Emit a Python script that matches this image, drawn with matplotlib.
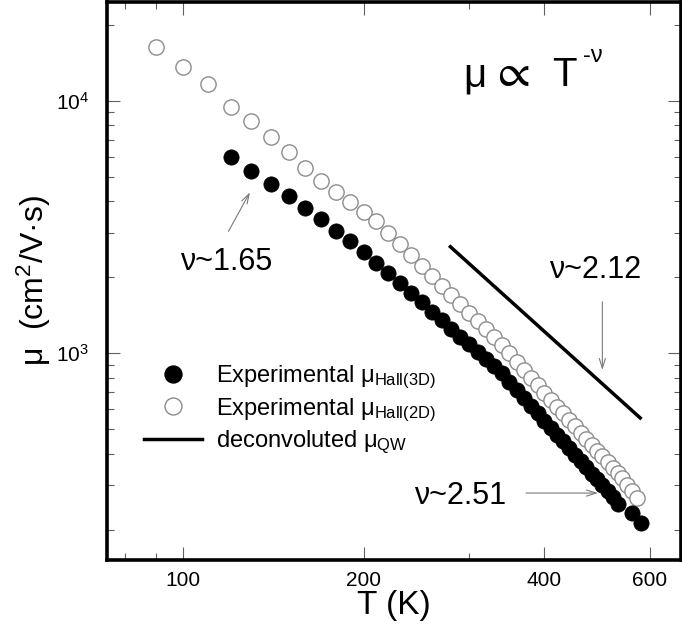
import matplotlib
matplotlib.use('Agg')
import matplotlib.pyplot as plt
from matplotlib.ticker import FixedLocator, FixedFormatter, NullFormatter
from matplotlib.legend_handler import HandlerLine2D
from matplotlib.lines import Line2D

plt.rcParams['font.family'] = ['Liberation Sans', 'DejaVu Sans']
plt.rcParams['mathtext.fontset'] = 'custom'
plt.rcParams['mathtext.rm'] = 'Liberation Sans'
plt.rcParams['mathtext.it'] = 'Liberation Sans'
plt.rcParams['mathtext.bf'] = 'Liberation Sans:bold'
plt.rcParams['mathtext.sf'] = 'Liberation Sans'

# ---- data ----
T_2d = [90, 100, 110, 120, 130, 140, 150, 160, 170, 180, 190, 200, 210, 220,
        230, 240, 250, 260, 270, 280, 290, 300, 310, 320, 330, 340, 350, 360,
        370, 380, 390, 400, 410, 420, 430, 440, 450, 460, 470, 480, 490, 500,
        510, 520, 530, 540, 550, 560, 570]
mu_2d = [16270, 13630, 11610, 9420, 8310, 7200, 6250, 5400, 4820, 4360, 3980,
         3640, 3330, 3000, 2700, 2445, 2220, 2025, 1855, 1700, 1565, 1450, 1340,
         1245, 1157, 1078, 1000, 925, 860, 800, 747, 698, 654, 615, 578, 545,
         514, 485, 459, 435, 412, 391, 371, 353, 336, 320, 302, 285, 268]

T_3d = [120, 130, 140, 150, 160, 170, 180, 190, 200, 210, 220, 230, 240, 250,
        260, 270, 280, 290, 300, 310, 320, 330, 340, 350, 360, 370, 380, 390,
        400, 410, 420, 430, 440, 450, 460, 470, 480, 490, 500, 510, 520, 530,
        560, 580]
mu_3d = [5970, 5280, 4670, 4195, 3760, 3400, 3050, 2780, 2510, 2270, 2080, 1894,
         1732, 1590, 1464, 1353, 1253, 1164, 1085, 1013, 947, 888, 834, 772, 717,
         666, 621, 579, 542, 508, 476, 448, 421, 397, 374, 354, 334, 317, 300,
         285, 271, 253, 233, 213]

T_qw = [279, 578]
mu_qw = [2643, 555]

series_labels = [r'Experimental $\mu_{\mathrm{Hall(3D)}}$',
                 r'Experimental $\mu_{\mathrm{Hall(2D)}}$',
                 r'deconvoluted $\mu_{\mathrm{QW}}$']

x_ticks = [100, 200, 400, 600]
x_tick_labels = ['100', '200', '400', '600']
x_minor = [80, 90, 300]
y_ticks = [1e3, 1e4]
y_tick_labels = [r'$10^{3}$', r'$10^{4}$']
y_minor = [200, 300, 400, 500, 600, 700, 800, 900,
           2000, 3000, 4000, 5000, 6000, 7000, 8000, 9000, 20000]

exponent_labels = [r'ν~1.65', r'ν~2.12', r'ν~2.51']

# ---- figure ----
fig = plt.figure(figsize=(6.82, 6.31), dpi=100)
ax = fig.add_axes([107/682, 71/631, 574/682, 558/631])
ax.set_xscale('log')
ax.set_yscale('log')
ax.set_xlim(74.7, 676)
ax.set_ylim(152, 24600)

open_col = '#8c8c8c'
ax.plot(T_2d, mu_2d, linestyle='none', marker='o', ms=11, mfc='white',
        mec=open_col, mew=1.0, zorder=3, label=series_labels[1])
ax.plot(T_3d, mu_3d, linestyle='none', marker='o', ms=11, mfc='black',
        mec='black', mew=0.5, zorder=4, label=series_labels[0])
ax.plot(T_qw, mu_qw, color='black', lw=2.5, zorder=2, label=series_labels[2])

# ticks
ax.xaxis.set_major_locator(FixedLocator(x_ticks))
ax.xaxis.set_major_formatter(FixedFormatter(x_tick_labels))
ax.xaxis.set_minor_locator(FixedLocator(x_minor))
ax.xaxis.set_minor_formatter(NullFormatter())
ax.yaxis.set_major_locator(FixedLocator(y_ticks))
ax.yaxis.set_major_formatter(FixedFormatter(y_tick_labels))
ax.yaxis.set_minor_locator(FixedLocator(y_minor))
ax.yaxis.set_minor_formatter(NullFormatter())

tick_col = '#606060'
ax.tick_params(which='both', direction='in', top=True, right=True,
               color=tick_col, width=0.8)
ax.tick_params(which='major', length=9.5)
ax.tick_params(which='minor', length=5)
ax.tick_params(axis='x', which='major', labelsize=15, pad=8)
ax.tick_params(axis='y', which='major', labelsize=15, pad=13)

for sp in ax.spines.values():
    sp.set_linewidth(2.6)
    sp.set_color('black')

ax.set_xlabel('T (K)', fontsize=24, labelpad=0)
ax.set_ylabel(r'μ  (cm$^{2}$/V·s)', fontsize=23, labelpad=2)

# annotation text: mu ∝ T^-nu
ax.text(0.620, 0.8486, 'μ', transform=ax.transAxes, fontsize=29,
        ha='left', va='baseline')
ax.text(0.680, 0.8486, '∝', transform=ax.transAxes, fontsize=34,
        ha='left', va='baseline', family=['STIXGeneral', 'DejaVu Sans'])
ax.text(0.775, 0.8486, 'T', transform=ax.transAxes, fontsize=29,
        ha='left', va='baseline')
ax.text(0.829, 0.892, '-ν', transform=ax.transAxes, fontsize=17,
        ha='left', va='baseline')

ax.text(0.2073, 0.534, exponent_labels[0], transform=ax.transAxes,
        fontsize=22, ha='center', va='center')
ax.text(0.850, 0.5197, exponent_labels[1], transform=ax.transAxes,
        fontsize=22, ha='center', va='center')
ax.text(0.615, 0.1147, exponent_labels[2], transform=ax.transAxes,
        fontsize=22, ha='center', va='center')

arr = dict(arrowstyle='->,head_length=0.7,head_width=0.22', color='#7a7a7a',
           lw=0.8, shrinkA=0, shrinkB=0)
ax.annotate('', xy=(0.2491, 0.659), xytext=(0.2115, 0.5889),
            xycoords='axes fraction', arrowprops=arr)
ax.annotate('', xy=(0.863, 0.3405), xytext=(0.863, 0.4627),
            xycoords='axes fraction', arrowprops=arr)
ax.annotate('', xy=(0.8554, 0.12), xytext=(0.730, 0.12),
            xycoords='axes fraction', arrowprops=arr)


class ShiftedMarker(HandlerLine2D):
    def get_xdata(self, legend, xdescent, ydescent, width, height, fontsize):
        xdata = [-xdescent, -xdescent + width]
        xm = [-xdescent + 0.757 * width]
        return xdata, xm


handles = [
    Line2D([], [], linestyle='none', marker='o', ms=12.2, mfc='black', mec='black'),
    Line2D([], [], linestyle='none', marker='o', ms=12.2, mfc='white', mec=open_col, mew=1.0),
    Line2D([], [], color='black', lw=2.5),
]
hmap = {handles[0]: ShiftedMarker(numpoints=1), handles[1]: ShiftedMarker(numpoints=1)}
leg = ax.legend(handles, series_labels, loc='center left',
                bbox_to_anchor=(0.0636, 0.269), frameon=False, fontsize=17,
                handlelength=2.49, handletextpad=0.58, labelspacing=0.22,
                borderpad=0, borderaxespad=0, handler_map=hmap)

fig.savefig('out.png', dpi=100)
